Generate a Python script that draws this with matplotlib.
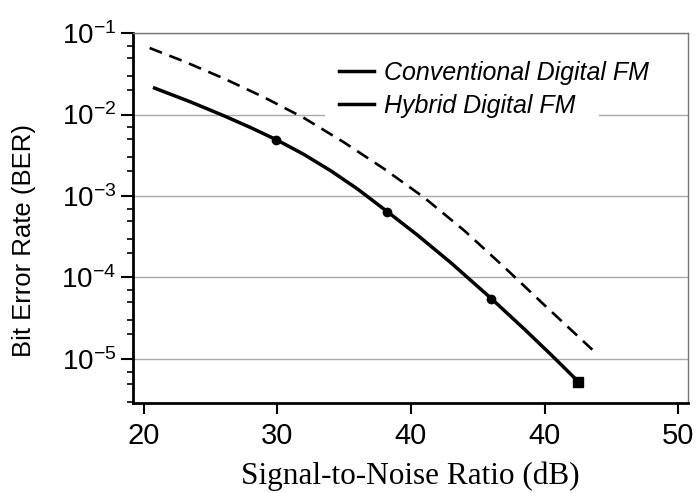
import matplotlib.pyplot as plt
import matplotlib.ticker as mticker
from matplotlib.lines import Line2D
from matplotlib.patches import Rectangle

plt.rcParams['font.family'] = 'Liberation Sans'
plt.rcParams['mathtext.fontset'] = 'custom'
plt.rcParams['mathtext.rm'] = 'Liberation Sans'
plt.rcParams['mathtext.it'] = 'Liberation Sans:italic'

# BER vs SNR, conventional digital FM (dashed)
snr_conv = [20.45, 23, 26, 29, 32, 35, 38, 41, 44, 47, 50, 53.57]
ber_conv = [6.55e-2, 4.50e-2, 2.77e-2, 1.63e-2, 9.06e-3, 4.54e-3, 2.15e-3,
            9.53e-4, 3.75e-4, 1.33e-4, 4.56e-5, 1.30e-5]

# hybrid digital FM (solid)
snr_hyb = [20.82, 23.5, 26.0, 28.0, 29.94, 32.0, 34.0, 36.0, 38.24, 40.5,
           43.0, 46.02, 48.5, 50.5, 52.52]
ber_hyb = [2.11e-2, 1.43e-2, 9.66e-3, 6.92e-3, 4.90e-3, 3.23e-3, 2.04e-3,
           1.22e-3, 6.41e-4, 3.30e-4, 1.51e-4, 5.50e-5, 2.31e-5, 1.12e-5,
           5.27e-6]

# marked points on the hybrid curve
snr_pts = [29.94, 38.24, 46.02]
ber_pts = [4.90e-3, 6.41e-4, 5.50e-5]
snr_end = [52.52]
ber_end = [5.27e-6]

xticks = [20, 30, 40, 50, 60]
xticklabels = ['20', '30', '40', '40', '50']
yticks = [1e-1, 1e-2, 1e-3, 1e-4, 1e-5]
yticklabels = [r'$10^{-1}$', r'$10^{-2}$', r'$10^{-3}$', r'$10^{-4}$', r'$10^{-5}$']

fig = plt.figure(figsize=(6.96, 4.93), dpi=100)
ax = fig.add_axes([0.191, 0.183, 0.797, 0.750])

ax.plot(snr_conv, ber_conv, color='black', lw=1.9, ls=(0, (5, 3)))
ax.plot(snr_hyb, ber_hyb, color='black', lw=2.5)
ax.plot(snr_pts, ber_pts, 'o', color='black', ms=6)
ax.plot(snr_end, ber_end, 's', color='black', ms=7)

ax.set_yscale('log')
ax.set_ylim(2.9e-6, 1e-1)
ax.set_xlim(19.2, 60.7)
ax.set_xticks(xticks)
ax.set_xticklabels(xticklabels, fontsize=21)
ax.set_yticks(yticks)
ax.set_yticklabels(yticklabels, fontsize=20)
ax.yaxis.set_minor_locator(mticker.LogLocator(base=10, subs=(2, 3, 5, 7)))
ax.yaxis.set_minor_formatter(mticker.NullFormatter())
ax.tick_params(axis='y', which='major', length=9, width=1.5, pad=3)
ax.tick_params(axis='y', which='minor', length=4, width=1.2)
ax.tick_params(axis='x', which='major', length=8, width=1.5, pad=6)

ax.grid(axis='y', which='major', color='#aaaaaa', lw=1)
ax.set_axisbelow(True)

for s in ['left', 'bottom']:
    ax.spines[s].set_linewidth(2)
for s in ['top', 'right']:
    ax.spines[s].set_linewidth(1)
    ax.spines[s].set_color('#777777')

ax.set_ylabel('Bit Error Rate (BER)', fontsize=18.5)
ax.yaxis.set_label_coords(-0.175, 0.44)
ax.set_xlabel('Signal-to-Noise Ratio (dB)', fontsize=22.5,
              family='Liberation Serif', labelpad=8)

# white patch behind the legend, hides the gridline there
ax.add_patch(Rectangle((0.346, 0.76), 0.495, 0.04, transform=ax.transAxes,
                       facecolor='white', edgecolor='none', zorder=1))

handles = [Line2D([], [], color='black', lw=2.5),
           Line2D([], [], color='black', lw=2.5)]
leg = ax.legend(handles, ['Conventional Digital FM', 'Hybrid Digital FM'],
                loc='upper left', bbox_to_anchor=(0.335, 0.978),
                prop={'family': 'Liberation Sans', 'style': 'italic', 'size': 18},
                frameon=False, handlelength=1.4, handletextpad=0.4,
                labelspacing=0.34, borderpad=0.3)

fig.savefig('out.png', dpi=100)
